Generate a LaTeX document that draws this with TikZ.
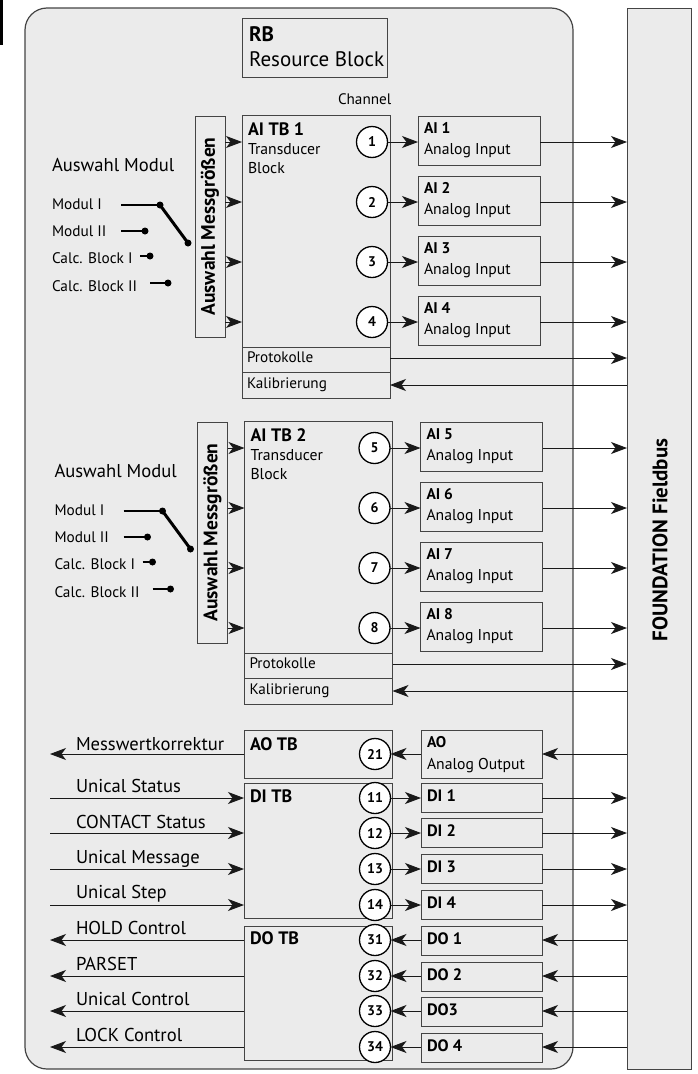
\documentclass[tikz,border=0pt]{standalone}
\usepackage{fontspec}
\setmainfont{PT Sans}
\usetikzlibrary{arrows.meta,calc}
\definecolor{panel}{HTML}{EBEBEB}
\definecolor{edge}{HTML}{444444}
\newcommand\fs[1]{\fontsize{#1}{#1}\selectfont}
\tikzset{
  every node/.style={inner sep=0pt, outer sep=0pt},
  box/.style={draw=edge, line width=1pt, anchor=north west},
  num/.style={circle, draw=black, line width=1.3pt, fill=white, minimum size=31pt, font=\bfseries\fs{14}},
  arr/.style={-{Stealth[length=16pt,width=12pt,inset=4.5pt]}, line width=0.9pt, draw=black!90},
  lbl/.style={anchor=base west, font=\fs{15.7}},
  big/.style={anchor=base west, font=\fs{18.6}},
  ttl/.style={anchor=base west, font=\bfseries\fs{15.5}},
  tbttl/.style={anchor=base west, font=\bfseries\fs{18}},
  small/.style={anchor=base west, font=\fs{15.2}},
  modl/.style={anchor=base west, font=\fs{15.3}},
  dot/.style={circle, fill=black, minimum size=7pt},
  sw/.style={line width=1.2pt},
}
\newcommand\bx[5]{\node[box, minimum width=#4pt, minimum height=#5pt] (#1) at (#2,#3) {};}
\begin{document}
\begin{tikzpicture}[x=1pt,y=-1pt]
\useasboundingbox (0,0) rectangle (698,1074);
\fill[black] (0,0) rectangle (2.5,45);
% panel and fieldbus
\draw[fill=panel, draw=edge, line width=1.2pt, rounded corners=22pt] (25,8) rectangle (573,1069);
\node[box, fill=panel, minimum width=64pt, minimum height=1061pt] (fb) at (627,8) {};
\node[rotate=90, font=\bfseries\fs{21}] (fbt) at (660,540) {FOUNDATION Fieldbus};
% resource block
\bx{rb}{242}{18}{145}{59}
\node[anchor=base west, font=\bfseries\fs{21}] (rbt) at (249,41) {RB};
\node[anchor=base west, font=\fs{21}] (rbn) at (249,66) {Resource Block};
\node[small] (chn) at (338,104) {Channel};
% AI groups
\foreach \s/\dx/\dy/\tb/\a/\b/\c/\d in {a/0/0/1/1/2/3/4, b/2.5/306/2/5/6/7/8}{
\begin{scope}[shift={(\dx,\dy)}]
  \bx{ams\s}{195}{116}{30}{221}
  \node[rotate=90, font=\bfseries\fs{19.5}] (amst\s) at (ams\s.center) {Auswahl Messgrößen};
  \bx{tb\s}{242}{115}{148}{283}
  \draw[edge, line width=1pt] (tb\s.west |- 0,347) -- (tb\s.east |- 0,347);
  \draw[edge, line width=1pt] (tb\s.west |- 0,372) -- (tb\s.east |- 0,372);
  \node[tbttl] (tbt\s) at (248,135) {AI TB \tb};
  \node[lbl] (tbs\s) at (248,154) {Transducer};
  \node[lbl] (tbb\s) at (248,173) {Block};
  \node[small] (pr\s) at (247,362) {Protokolle};
  \node[small] (ka\s) at (247,388) {Kalibrierung};
  \foreach \n/\y/\k in {\a/142/1,\b/202/2,\c/262/3,\d/322/4}{
    \node[num] (c\n) at (372,\y) {\n};
    \bx{ai\n}{418}{\y-26}{122}{49}
    \node[ttl] (ait\n) at ($(ai\n.north west)+(6,17)$) {AI \n};
    \node[lbl] (aid\n) at ($(ai\n.north west)+(6,38)$) {Analog Input};
    \draw[arr] (c\n.east) -- (ai\n.west |- c\n);
    \draw[arr] (ai\n.east |- c\n) -- (fb.west |- c\n);
    \draw[arr] (ams\s.east |- 0,\y) -- (tb\s.west |- 0,\y);
  }
  \draw[arr] (tb\s.east |- 0,358) -- (fb.west |- 0,358);
  \draw[arr] (fb.west |- 0,385) -- (tb\s.east |- 0,385);
  % selector
  \node[big] (am\s) at (52,171) {Auswahl Modul};
  \node[modl] (m1t\s) at (52,209) {Modul I};
  \node[modl] (m2t\s) at (52,236) {Modul II};
  \node[modl] (m3t\s) at (52,263) {Calc. Block I};
  \node[modl] (m4t\s) at (52,291) {Calc. Block II};
  \coordinate (m1s\s) at (121,205);
  \coordinate (m2s\s) at (121,231);
  \coordinate (m3s\s) at (140,256);
  \coordinate (m4s\s) at (150,283);
  \node[dot] (m1\s) at (160,205) {};
  \node[dot] (m2\s) at (145,231) {};
  \node[dot] (m3\s) at (150,256) {};
  \node[dot] (m4\s) at (168,283) {};
  \node[dot] (sw\s) at (188,243) {};
  \draw[sw] (m1s\s) -- (m1\s.center);
  \draw[sw] (m2s\s) -- (m2\s.center);
  \draw[sw] (m3s\s) -- (m3\s.center);
  \draw[sw] (m4s\s) -- (m4\s.center);
  \draw[line width=3pt] (m1\s.center) -- (sw\s.center);
\end{scope}
}
% bottom transducer blocks
\bx{aotb}{244}{730}{148}{48}
\bx{ditb}{244}{783}{148}{135}
\bx{dotb}{244}{926}{148}{134}
\node[tbttl] (aotbt) at (250,750) {AO TB};
\node[tbttl] (ditbt) at (250,802) {DI TB};
\node[tbttl] (dotbt) at (250,944) {DO TB};
% AO
\node[num] (c21) at (375,754) {21};
\bx{ao}{421}{730}{121}{48}
\node[ttl] (aot) at (427,747) {AO};
\node[lbl] (aod) at (427,769) {Analog Output};
\draw[arr] (fb.west |- c21) -- (ao.east |- c21);
\draw[arr] (ao.west |- c21) -- (c21.east);
\coordinate (mk) at (50,754);
\draw[arr] (aotb.west |- mk) -- (mk);
\node[big] (mkt) at (76,750) {Messwertkorrektur};
% DI
\foreach \n/\lab/\y/\txt/\ty in {11/DI 1/798/Unical Status/792, 12/DI 2/833/CONTACT Status/828, 13/DI 3/869/Unical Message/863, 14/DI 4/905/Unical Step/898}{
  \node[num] (c\n) at (375,\y) {\n};
  \bx{b\n}{421}{\y-15}{121}{29}
  \node[ttl, font=\bfseries\fs{16.5}] (bt\n) at ($(b\n.north west)+(6,18)$) {\lab};
  \draw[arr] (c\n.east) -- (b\n.west |- c\n);
  \draw[arr] (b\n.east |- c\n) -- (fb.west |- c\n);
  \coordinate (in\n) at (50,\y);
  \draw[arr] (in\n) -- (ditb.west |- in\n);
  \node[big] (it\n) at (76,\ty) {\txt};
}
% DO
\foreach \n/\lab/\y/\txt/\ty in {31/DO 1/940/HOLD Control/934, 32/DO 2/976/PARSET/970, 33/DO3/1011/Unical Control/1005, 34/DO 4/1047/LOCK Control/1041}{
  \node[num] (c\n) at (375,\y) {\n};
  \bx{b\n}{421}{\y-14}{121}{29}
  \node[ttl, font=\bfseries\fs{16.5}] (bt\n) at ($(b\n.north west)+(6,18)$) {\lab};
  \draw[arr] (fb.west |- c\n) -- (b\n.east |- c\n);
  \draw[arr] (b\n.west |- c\n) -- (c\n.east);
  \coordinate (out\n) at (50,\y);
  \draw[arr] (dotb.west |- out\n) -- (out\n);
  \node[big] (ot\n) at (76,\ty) {\txt};
}
\end{tikzpicture}
\end{document}
